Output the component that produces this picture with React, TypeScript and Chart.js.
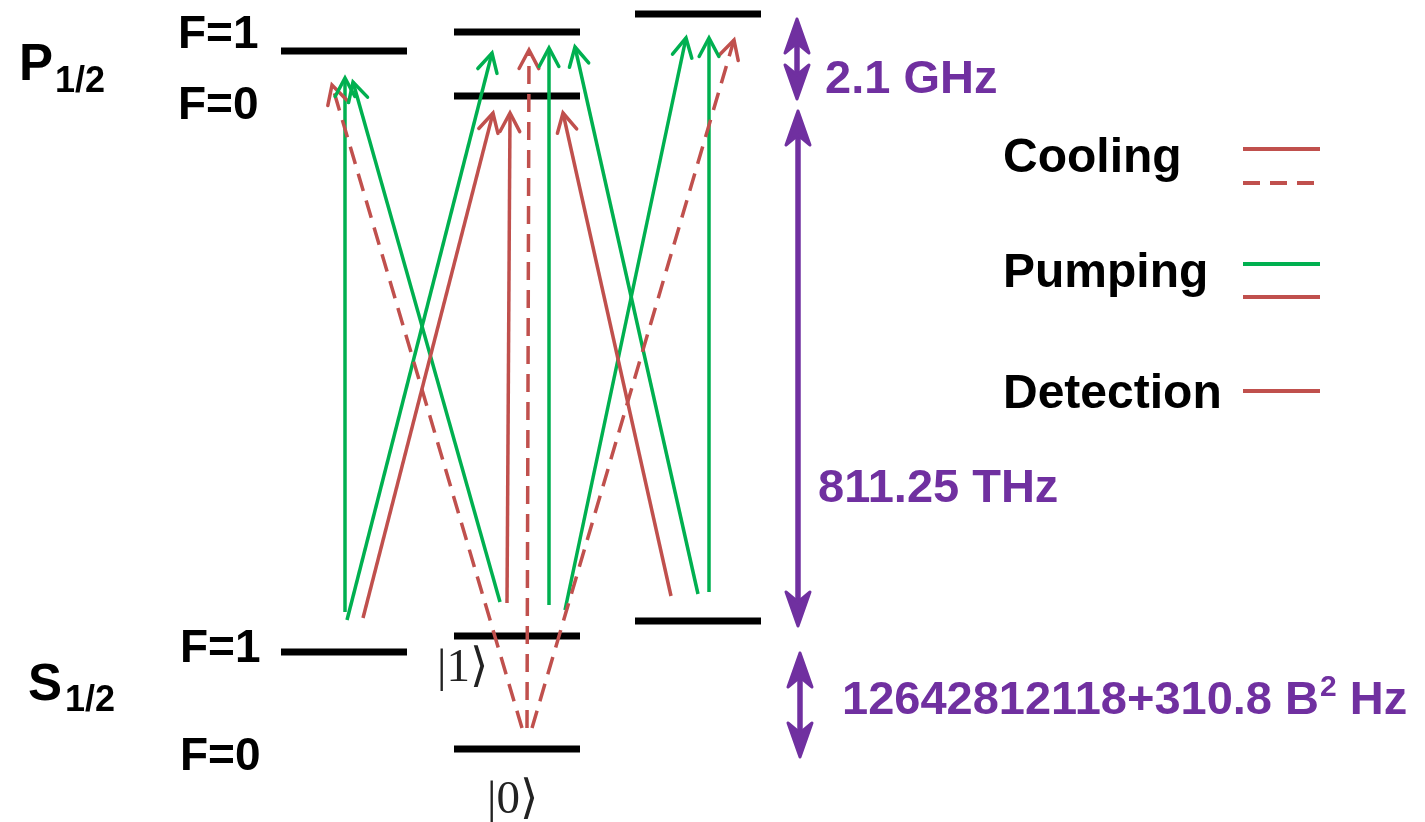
import React, { useEffect, useRef } from 'react';
import { Chart, registerables } from 'chart.js';

Chart.register(...registerables);

// Diagram coordinates: x to the right, y downward (energy increases upward on screen).
const WIDTH = 1425;
const HEIGHT = 822;

const RED = '#C0504D';
const GREEN = '#00B050';
const PURPLE = '#7030A0';
const BOLD = "'Liberation Sans', Arial, sans-serif";
const SERIF = "'Liberation Serif', 'DejaVu Serif', serif";

// Hyperfine / Zeeman sublevels (bars)
const levelStartX = [281, 281, 454, 454, 454, 454, 635, 635];
const levelEndX = [407, 407, 580, 580, 580, 580, 761, 761];
const levelY = [51, 652, 32, 96, 636, 749, 14, 621];

// Pumping transitions (green)
const pumpFromX = [345, 347, 500, 549, 565, 698, 709];
const pumpFromY = [612, 620, 602, 605, 610, 594, 592];
const pumpToX = [345, 492, 353, 549, 686, 575, 709];
const pumpToY = [78, 53, 82, 48, 38, 47, 38];

// Cooling / detection transitions to P1/2 F=0 (solid red)
const coolFromX = [363, 507, 671];
const coolFromY = [618, 603, 596];
const coolToX = [493, 510, 563];
const coolToY = [113, 113, 113];

// Cooling transitions from S1/2 F=0 (dashed red)
const dashFromX = [522, 527, 532];
const dashFromY = [728, 728, 728];
const dashToX = [332, 529, 734];
const dashToY = [85, 50, 40];

// Splitting markers (double arrows) and their labels
const splitX = [797, 798, 800];
const splitTop = [18, 110, 652];
const splitBottom = [100, 627, 758];
const splitLabels = ['2.1 GHz', '811.25 THz', '12642812118+310.8 B'];

// Legend entries
const legendLabels = ['Cooling', 'Pumping', 'Detection'];

function segments(
  x0: number[], y0: number[], x1: number[], y1: number[], style: Record<string, unknown>
) {
  return x0.map((_, i) => ({
    data: [
      { x: x0[i], y: y0[i] },
      { x: x1[i], y: y1[i] },
    ],
    showLine: true,
    pointRadius: 0,
    pointHoverRadius: 0,
    fill: false,
    tension: 0,
    ...style,
  }));
}

function drawChevron(ctx: CanvasRenderingContext2D, ax: number, ay: number, bx: number, by: number, color: string) {
  const ang = Math.atan2(by - ay, bx - ax);
  const len = 21;
  const spread = (28 * Math.PI) / 180;
  ctx.save();
  ctx.setLineDash([]);
  ctx.strokeStyle = color;
  ctx.lineWidth = 3.5;
  ctx.lineCap = 'round';
  ctx.lineJoin = 'miter';
  ctx.beginPath();
  ctx.moveTo(bx - len * Math.cos(ang - spread), by - len * Math.sin(ang - spread));
  ctx.lineTo(bx, by);
  ctx.lineTo(bx - len * Math.cos(ang + spread), by - len * Math.sin(ang + spread));
  ctx.stroke();
  ctx.restore();
}

function drawStealth(ctx: CanvasRenderingContext2D, x: number, tipY: number, dir: number) {
  // dir = +1 head points up (body below), -1 head points down
  const back = 34;
  const notch = 24;
  const half = 12;
  ctx.beginPath();
  ctx.moveTo(x, tipY);
  ctx.lineTo(x - half, tipY + dir * back);
  ctx.lineTo(x, tipY + dir * notch);
  ctx.lineTo(x + half, tipY + dir * back);
  ctx.closePath();
  ctx.fill();
  ctx.stroke();
}

const diagramPlugin = {
  id: 'diagramOverlay',
  afterDatasetsDraw(chart: any) {
    const ctx: CanvasRenderingContext2D = chart.ctx;
    chart.data.datasets.forEach((ds: any, i: number) => {
      if (!ds.arrowHead) return;
      const pts = chart.getDatasetMeta(i).data;
      if (pts.length < 2) return;
      drawChevron(ctx, pts[0].x, pts[0].y, pts[1].x, pts[1].y, ds.borderColor);
    });
  },
  afterDraw(chart: any) {
    const ctx: CanvasRenderingContext2D = chart.ctx;
    const sx = chart.scales.x;
    const sy = chart.scales.y;
    const px = (v: number) => sx.getPixelForValue(v);
    const py = (v: number) => sy.getPixelForValue(v);

    // Double-headed splitting arrows
    ctx.save();
    ctx.strokeStyle = PURPLE;
    ctx.fillStyle = PURPLE;
    ctx.lineJoin = 'round';
    splitX.forEach((xv, i) => {
      const x = px(xv);
      const t = py(splitTop[i]);
      const b = py(splitBottom[i]);
      ctx.lineWidth = 5.5;
      ctx.beginPath();
      ctx.moveTo(x, t + 22);
      ctx.lineTo(x, b - 22);
      ctx.stroke();
      ctx.lineWidth = 3;
      drawStealth(ctx, x, t + 1, 1);
      drawStealth(ctx, x, b - 1, -1);
    });
    ctx.restore();

    const text = (s: string, x: number, y: number, font: string, color: string) => {
      ctx.font = font;
      ctx.fillStyle = color;
      ctx.textAlign = 'left';
      ctx.textBaseline = 'alphabetic';
      ctx.fillText(s, px(x), py(y));
      return px(x) + ctx.measureText(s).width;
    };

    ctx.save();
    // Term symbols
    text('P', 19, 80, `bold 51px ${BOLD}`, '#000');
    text('1/2', 55, 92, `bold 36px ${BOLD}`, '#000');
    text('S', 28, 700, `bold 51px ${BOLD}`, '#000');
    text('1/2', 65, 711, `bold 36px ${BOLD}`, '#000');
    // Hyperfine quantum numbers
    text('F=1', 178, 48, `bold 46px ${BOLD}`, '#000');
    text('F=0', 178, 119, `bold 46px ${BOLD}`, '#000');
    text('F=1', 180, 662, `bold 46px ${BOLD}`, '#000');
    text('F=0', 180, 770, `bold 46px ${BOLD}`, '#000');
    // Qubit states
    text('|1\u27E9', 437, 681, `47px ${SERIF}`, '#222');
    text('|0\u27E9', 487, 813, `47px ${SERIF}`, '#222');
    // Splitting labels
    text(splitLabels[0], 825, 93, `bold 47px ${BOLD}`, PURPLE);
    text(splitLabels[1], 818, 502, `bold 47px ${BOLD}`, PURPLE);
    const afterB = text(splitLabels[2], 842, 714, `bold 47px ${BOLD}`, PURPLE);
    ctx.font = `bold 30px ${BOLD}`;
    ctx.fillText('2', afterB + 1, py(696));
    const afterSup = afterB + 1 + ctx.measureText('2').width;
    ctx.font = `bold 47px ${BOLD}`;
    ctx.fillText(' Hz', afterSup, py(714));
    // Legend
    const legendY = [172, 287, 408];
    legendLabels.forEach((s, i) => text(s, 1003, legendY[i], `bold 48px ${BOLD}`, '#000'));
    ctx.restore();

    // Legend line samples
    const sample = (y: number, color: string, dash: number[]) => {
      ctx.save();
      ctx.strokeStyle = color;
      ctx.lineWidth = 4;
      ctx.setLineDash(dash);
      ctx.beginPath();
      ctx.moveTo(px(1243), py(y));
      ctx.lineTo(px(1320), py(y));
      ctx.stroke();
      ctx.restore();
    };
    sample(149, RED, []);
    sample(183, RED, [17, 10]);
    sample(264, GREEN, []);
    sample(297, RED, []);
    sample(391, RED, []);
  },
};

export default function App() {
  const canvasRef = useRef<HTMLCanvasElement | null>(null);

  useEffect(() => {
    const canvas = canvasRef.current;
    if (!canvas) return;

    const datasets: any[] = [
      ...segments(levelStartX, levelY, levelEndX, levelY, {
        borderColor: '#000',
        borderWidth: 7,
        borderCapStyle: 'butt',
        order: 5,
      }),
      ...segments(dashFromX, dashFromY, dashToX, dashToY, {
        borderColor: RED,
        borderWidth: 3.5,
        borderDash: [18, 10],
        arrowHead: true,
        order: 1,
      }),
      ...segments(coolFromX, coolFromY, coolToX, coolToY, {
        borderColor: RED,
        borderWidth: 3.5,
        arrowHead: true,
        order: 1,
      }),
      ...segments(pumpFromX, pumpFromY, pumpToX, pumpToY, {
        borderColor: GREEN,
        borderWidth: 3.5,
        arrowHead: true,
        order: 1,
      }),
    ];

    const chart = new Chart(canvas, {
      type: 'scatter',
      data: { datasets },
      options: {
        animation: false,
        responsive: false,
        maintainAspectRatio: false,
        devicePixelRatio: 1,
        events: [],
        layout: { padding: 0 },
        plugins: {
          legend: { display: false },
          tooltip: { enabled: false },
          title: { display: false },
        },
        scales: {
          x: { type: 'linear', min: 0, max: WIDTH, display: false },
          y: { type: 'linear', min: 0, max: HEIGHT, reverse: true, display: false },
        },
      },
      plugins: [diagramPlugin],
    });

    return () => chart.destroy();
  }, []);

  return (
    <div style={{ position: 'fixed', left: 0, top: 0, width: WIDTH, height: HEIGHT, background: '#fff' }}>
      <canvas ref={canvasRef} width={WIDTH} height={HEIGHT} style={{ display: 'block' }} />
    </div>
  );
}
